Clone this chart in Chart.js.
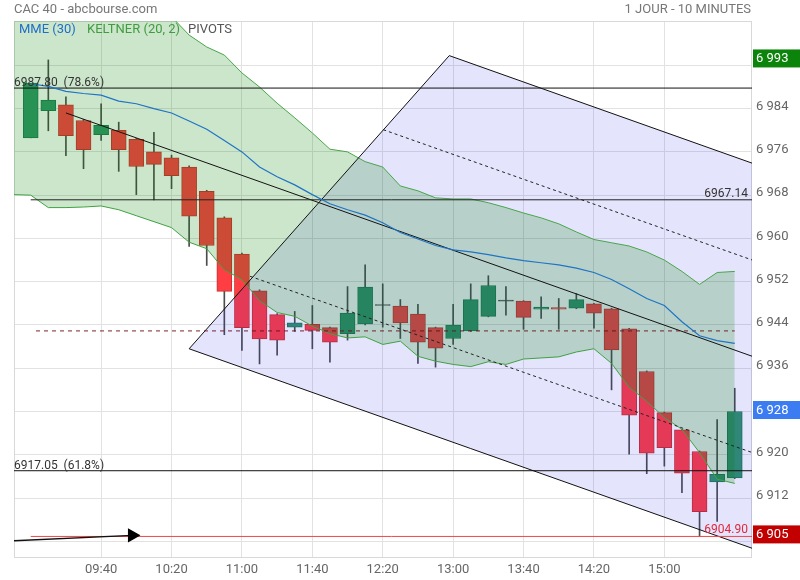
<!DOCTYPE html>
<html><head><meta charset="utf-8">
<script src="https://cdn.jsdelivr.net/npm/chart.js@4.4.1/dist/chart.umd.min.js"></script>
<style>html,body{margin:0;padding:0;background:#fff}</style>
</head><body>
<canvas id="c" width="800" height="580"></canvas>
<script>
// ---- data (candle index 0 = 09:00, one candle every 10 minutes) ----
const xTickIdx    = [4, 8, 12, 16, 20, 24, 28, 32, 36];
const xTickLabels = ['09:40','10:20','11:00','11:40','12:20','13:00','13:40','14:20','15:00'];
const yTicks = [6904, 6912, 6920, 6928, 6936, 6944, 6952, 6960, 6968, 6976, 6984, 6992];
const yHidden = [6904, 6928, 6992];

const opens  = [6978.6,6983.6,6984.7,6981.8,6979.2,6980.0,6978.3,6976.0,6974.9,6973.2,6968.7,6963.8,6957.1,6950.3,6945.9,6943.6,6944.1,6943.5,6942.4,6944.2,6947.6,6947.5,6946.0,6943.5,6941.5,6942.9,6945.6,6948.4,6948.4,6946.9,6947.2,6947.1,6947.9,6947.0,6943.3,6935.4,6927.8,6924.6,6920.6,6915.0,6915.7];
const highs  = [6988.7,6993.0,6986.2,6982.0,6984.9,6981.5,6978.5,6979.6,6975.4,6973.4,6968.9,6964.0,6957.3,6950.5,6946.1,6946.5,6947.6,6943.6,6951.1,6955.1,6951.6,6948.7,6947.8,6943.6,6947.8,6951.6,6953.1,6951.1,6948.5,6949.2,6948.9,6949.8,6948.0,6947.1,6943.4,6935.5,6927.9,6924.7,6920.7,6926.5,6932.3];
const lows   = [6978.6,6979.9,6975.3,6972.9,6978.1,6972.4,6968.1,6967.1,6969.2,6958.5,6955.0,6942.2,6939.3,6936.8,6938.4,6942.8,6939.6,6937.1,6941.2,6944.0,6943.6,6941.5,6936.9,6936.2,6940.4,6942.8,6945.5,6945.8,6943.2,6945.2,6943.2,6947.0,6943.4,6932.0,6920.1,6916.5,6917.9,6913.0,6904.9,6907.7,6915.6];
const closes = [6988.7,6985.6,6979.0,6976.4,6980.9,6976.4,6973.3,6973.7,6971.6,6964.1,6958.7,6950.2,6943.5,6941.4,6941.2,6944.4,6943.0,6940.8,6946.2,6951.0,6947.6,6944.4,6940.8,6939.7,6944.0,6948.7,6951.3,6948.4,6945.4,6947.3,6946.9,6948.7,6946.2,6939.4,6927.3,6920.3,6921.3,6916.6,6909.5,6916.4,6928.0];

// Keltner (20, 2) bands, from candle index -1 to 40
const keltnerUpper = [7014,7013,7012,7011,7010,7009,7008,7006,7004,7001,6997.6,6995.4,6993.9,6990.6,6988.0,6985.0,6982.3,6979.5,6976.5,6976.0,6974.2,6973.2,6969.7,6968.8,6967.5,6967.3,6967.3,6966.6,6965.7,6964.7,6963.8,6962.7,6961.2,6959.8,6959.2,6958.6,6957.5,6956.0,6953.9,6951.5,6953.7,6953.9];
const keltnerLower = [6968.1,6968.0,6965.7,6965.7,6965.8,6966.0,6965.3,6964.2,6963.1,6962.0,6959.3,6958.1,6954.2,6952.4,6948.5,6946.3,6945.6,6943.8,6942.4,6941.6,6941.8,6940.4,6941.0,6938.2,6937.3,6936.7,6936.3,6937.2,6936.7,6937.7,6937.9,6938.1,6939.0,6939.6,6936.9,6932.5,6929.9,6926.9,6924.7,6920.4,6915.5,6914.7];
// MME (30), candle index 0 to 40
const mme = [6988.6,6988.1,6987.2,6986.8,6986.5,6985.4,6984.9,6984.0,6983.2,6981.7,6980.2,6978.1,6976.0,6973.2,6971.4,6969.9,6968.1,6966.4,6965.3,6964.3,6962.9,6961.1,6959.9,6958.7,6957.9,6957.5,6957.0,6956.4,6955.9,6955.5,6955.1,6954.5,6953.7,6952.4,6950.7,6948.9,6947.6,6944.6,6942.0,6941.1,6940.6];

// channel drawing: [x index, value] end points
const chanMid    = [[2, 6983.2], [41, 6938.2]];
const chanTop    = [[23.78, 6993.8], [41, 6973.9]];
const chanBottom = [[9.0, 6939.6], [41, 6902.7]];
const chanLeft   = [[9.0, 6939.6], [23.78, 6993.8]];
const chanUpDot  = [[20.03, 6980.1], [41, 6956.0]];
const chanLoDot  = [[12.46, 6953.0], [41, 6920.4]];
const chanArea   = [[9.0, 6939.6], [23.78, 6993.8], [41, 6973.9], [41, 6902.7], [9.0, 6939.6]];

// pivot / fibonacci levels
const fibLevels = [6987.80, 6917.05];
const fibLabels = ['6987.80  (78.6%)', '6917.05  (61.8%)'];
const pivotLevel = 6967.14;
const lowLevel = 6904.90;
const dashedLevel = 6942.9;
const arrowPts = [[-0.95, 6904.1], [5.76, 6905.1]];

const markers = [6993, 6928, 6905];
const markerColors = ['#0c840c', '#3c7cf2', '#c20000'];

const X_MIN = -0.95, X_MAX = 40.98, Y_MIN = 6901.1, Y_MAX = 7000.2;

// ---- build datasets ----
const idx = opens.map((_, i) => i);
const isUp = idx.map(i => closes[i] > opens[i]);
const isDoji = idx.map(i => closes[i] === opens[i]);
const bodyFill = idx.map(i => isDoji[i] ? '#444' : (isUp[i] ? '#33956a' : '#ff3e44'));
const bodyBorder = idx.map(i => isDoji[i] ? '#444' : (isUp[i] ? '#1f7a52' : '#c83030'));
const pts = a => a.map(p => ({x: p[0], y: p[1]}));
const hline = (v, x0, x1) => [{x: x0, y: v}, {x: x1, y: v}];

function lineDs(data, color, extra) {
  return Object.assign({type: 'line', data, borderColor: color, borderWidth: 1, pointRadius: 0,
    fill: false, tension: 0, order: 50}, extra || {});
}

const datasets = [
  {type: 'bar', data: idx.map(i => ({x: i, y: [lows[i], highs[i]]})), backgroundColor: '#4c4c4c',
   grouped: false, maxBarThickness: 1, categoryPercentage: 1, barPercentage: 1, order: 100},
  {type: 'bar', data: idx.map(i => ({x: i, y: [opens[i], closes[i]]})), backgroundColor: bodyFill,
   borderColor: bodyBorder, borderWidth: 1, borderSkipped: false, minBarLength: 1,
   grouped: false, maxBarThickness: 15, categoryPercentage: 1, barPercentage: 1, order: 99},
  lineDs(pts(chanArea), 'rgba(0,0,0,0)', {borderWidth: 0, fill: 'shape', backgroundColor: 'rgba(30,30,230,0.12)', order: 90}),
  lineDs(keltnerUpper.map((v, i) => ({x: i - 1, y: v})), 'rgb(72,165,72)', {fill: '+1', backgroundColor: 'rgba(0,128,0,0.2)', order: 80}),
  lineDs(keltnerLower.map((v, i) => ({x: i - 1, y: v})), 'rgb(72,165,72)', {order: 80}),
  lineDs(hline(fibLevels[0], X_MIN, X_MAX), '#111'),
  lineDs(hline(fibLevels[1], X_MIN, X_MAX), '#111'),
  lineDs(hline(pivotLevel, 0, X_MAX), '#222'),
  lineDs(hline(dashedLevel, 0.3, 40), 'rgba(105,15,25,0.9)', {borderDash: [4, 4]}),
  lineDs(hline(lowLevel, 0, X_MAX), '#f04848'),
  lineDs(pts(chanMid), '#111'),
  lineDs(pts(chanTop), '#111'),
  lineDs(pts(chanBottom), '#111'),
  lineDs(pts(chanLeft), '#111'),
  lineDs(pts(chanUpDot), '#222', {borderDash: [3, 3]}),
  lineDs(pts(chanLoDot), '#222', {borderDash: [3, 3]}),
  lineDs(mme.map((v, i) => ({x: i, y: v})), '#1f74c4', {borderWidth: 1.2, order: 10}),
  lineDs(pts(arrowPts), '#111', {borderWidth: 1.3, pointRadius: [0, 7], pointStyle: 'triangle',
    pointRotation: 90, pointBackgroundColor: '#000', pointBorderColor: '#000', order: 5})
];

const fmt = v => String(v).replace(/(\d)(\d{3})$/, '$1 $2');

const decor = {
  id: 'decor',
  beforeDatasetsDraw(chart) {
    const {ctx, chartArea: a} = chart;
    ctx.save();
    ctx.strokeStyle = '#d8d8d8'; ctx.lineWidth = 1;
    ctx.strokeRect(a.left + 0.5, a.top + 0.5, a.right - a.left - 1, a.bottom - a.top);
    ctx.restore();
  },
  afterDraw(chart) {
    const {ctx, chartArea: a} = chart;
    const ys = chart.scales.y;
    ctx.save();
    ctx.textBaseline = 'alphabetic';
    ctx.font = '13px Roboto';
    ctx.fillStyle = '#777';
    ctx.textAlign = 'left';
    ctx.fillText('CAC 40 - abcbourse.com', 14, 13);
    ctx.textAlign = 'right';
    ctx.fillText('1 JOUR - 10 MINUTES', 751, 13);
    ctx.textAlign = 'left';
    ctx.fillStyle = '#1f6fc4'; ctx.fillText('MME (30)', 19, 33);
    ctx.fillStyle = '#3f9c3f'; ctx.fillText('KELTNER (20, 2)', 87, 33);
    ctx.fillStyle = '#555'; ctx.fillText('PIVOTS', 188, 33);

    ctx.font = '12px Roboto';
    ctx.fillStyle = '#333';
    fibLevels.forEach((v, i) => ctx.fillText(fibLabels[i], 14, ys.getPixelForValue(v) - 2));
    ctx.textAlign = 'right';
    ctx.fillText(pivotLevel.toFixed(2), 748, ys.getPixelForValue(pivotLevel) - 3);
    ctx.fillStyle = '#e0283c';
    ctx.fillText(lowLevel.toFixed(2), 748, ys.getPixelForValue(lowLevel) - 3);

    ctx.font = '13px Roboto';
    ctx.textAlign = 'left';
    ctx.textBaseline = 'middle';
    markers.forEach((v, i) => {
      let yc = ys.getPixelForValue(v) - 1.5;
      yc = Math.min(yc, a.bottom - 18);
      ctx.fillStyle = markerColors[i];
      ctx.fillRect(753, yc - 9, 47, 18);
      ctx.fillStyle = '#fff';
      ctx.fillText(fmt(v), 756, yc + 0.5);
    });
    ctx.restore();
  }
};

Chart.defaults.font.family = 'Roboto';
new Chart(document.getElementById('c'), {
  type: 'bar',
  data: {datasets},
  options: {
    responsive: false, animation: false, devicePixelRatio: 1,
    layout: {padding: {left: 14, top: 21, right: 0, bottom: 0}},
    plugins: {legend: {display: false}, tooltip: {enabled: false}},
    scales: {
      x: {type: 'linear', min: X_MIN, max: X_MAX, offset: false,
          grid: {color: '#e2e2e2', offset: false, drawTicks: false},
          border: {display: false},
          afterBuildTicks: s => { s.ticks = xTickIdx.map(v => ({value: v})); },
          afterFit: s => { s.height = 23; },
          ticks: {autoSkip: false, maxRotation: 0, padding: 5, color: '#666', font: {size: 13},
                  callback: v => xTickLabels[xTickIdx.indexOf(v)] || ''}},
      y: {type: 'linear', position: 'right', min: Y_MIN, max: Y_MAX, beginAtZero: false,
          grid: {color: '#e2e2e2', drawTicks: false},
          border: {display: false},
          afterBuildTicks: s => { s.ticks = yTicks.map(v => ({value: v})); },
          afterFit: s => { s.width = 48; },
          ticks: {autoSkip: false, padding: 4, labelOffset: -2, color: '#666', font: {size: 13},
                  callback: v => yHidden.includes(v) ? '' : fmt(v)}}
    }
  },
  plugins: [decor]
});
</script>
</body></html>
